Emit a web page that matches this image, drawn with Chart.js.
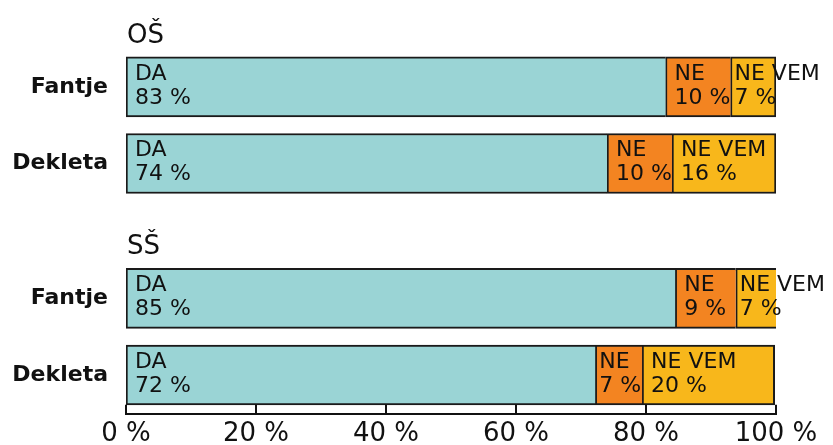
<!DOCTYPE html>
<html>
<head>
<meta charset="utf-8">
<script src="https://cdn.jsdelivr.net/npm/chart.js@4"></script>
<style>
    html, body { margin: 0; padding: 0; background: #fff; }
    #wrap { width: 833px; height: 445px; }
</style>
</head>
<body>
<div id="wrap"><canvas id="chart" width="833" height="445"></canvas></div>
<script>
// Data
const groups = ['OŠ', 'SŠ'];
const rowLabels = ['Fantje', 'Dekleta', 'Fantje', 'Dekleta'];
const rowGroup = [0, 0, 1, 1];
const seriesNames = ['DA', 'NE', 'NE VEM'];
const daValues = [83, 74, 84.5, 72.2];
const neValues = [10, 10, 9.3, 7.2];
const neVemValues = [7, 16, 6.5, 20.4];
const xTicks = [0, 20, 40, 60, 80, 100];

// Layout: where each row sits on the (linear) index axis
const rowSlots = [0, 1, 2.76, 3.76];
const FONT = '"DejaVu Sans", sans-serif';
const INK = '#111';

function toPoints(values) {
    return values.map((v, i) => ({ x: v, y: rowSlots[i] }));
}

const segmentLabels = {
    id: 'segmentLabels',
    afterDatasetsDraw(chart) {
        const ctx = chart.ctx;
        ctx.save();
        ctx.fillStyle = INK;
        ctx.textAlign = 'left';

        // text inside the bar segments
        ctx.font = '22px ' + FONT;
        ctx.textBaseline = 'middle';
        chart.data.datasets.forEach((ds, di) => {
            chart.getDatasetMeta(di).data.forEach((bar, i) => {
                const v = ds.data[i].x;
                const left = Math.min(bar.base, bar.x);
                const pad = v < 8 ? 4 : 9;
                ctx.fillText(ds.label, left + pad, bar.y - 13);
                ctx.fillText(Math.round(v) + ' %', left + pad, bar.y + 11);
            });
        });

        // group headers above each block of bars
        ctx.font = '26px ' + FONT;
        ctx.textBaseline = 'alphabetic';
        const first = chart.getDatasetMeta(0).data;
        groups.forEach((g, gi) => {
            const idx = rowGroup.indexOf(gi);
            const bar = first[idx];
            const top = bar.y - bar.height / 2;
            ctx.fillText(g, chart.scales.x.left + 1, top - 14);
        });

        // short ticks pointing up from the x axis
        const xs = chart.scales.x;
        ctx.strokeStyle = INK;
        ctx.lineWidth = 2;
        xTicks.forEach(t => {
            const px = Math.round(xs.getPixelForValue(t));
            ctx.beginPath();
            ctx.moveTo(px, xs.top - 9);
            ctx.lineTo(px, xs.top);
            ctx.stroke();
        });
        ctx.restore();
    }
};

const edge = { top: 2, bottom: 2, left: 2, right: 0 };

new Chart(document.getElementById('chart'), {
    type: 'bar',
    data: {
        datasets: [
            { label: seriesNames[0], data: toPoints(daValues), backgroundColor: '#9AD4D5', borderWidth: edge },
            { label: seriesNames[1], data: toPoints(neValues), backgroundColor: '#F38421', borderWidth: edge },
            { label: seriesNames[2], data: toPoints(neVemValues), backgroundColor: '#F8B71B', borderWidth: 2 }
        ]
    },
    options: {
        indexAxis: 'y',
        responsive: false,
        animation: false,
        layout: { padding: { top: 0, left: 0, right: 57, bottom: 0 } },
        datasets: {
            bar: { barThickness: 60, borderColor: '#1a1a1a', borderSkipped: false }
        },
        plugins: {
            legend: { display: false },
            tooltip: { enabled: false }
        },
        scales: {
            x: {
                type: 'linear',
                stacked: true,
                min: 0,
                max: 100,
                afterBuildTicks: s => { s.ticks = xTicks.map(v => ({ value: v })); },
                afterFit: s => { s.height = 30; },
                grid: { display: false, drawTicks: false },
                border: { display: true, color: INK, width: 2 },
                ticks: {
                    padding: 5,
                    color: INK,
                    font: { family: FONT, size: 26, weight: 'normal', lineHeight: 1.2 },
                    callback: v => v + ' %',
                    maxRotation: 0
                }
            },
            y: {
                type: 'linear',
                stacked: true,
                reverse: true,
                offset: false,
                min: -0.727,
                max: 4.266,
                afterBuildTicks: s => { s.ticks = rowSlots.map(v => ({ value: v })); },
                afterFit: s => { s.width = 126; },
                grid: { display: false, drawTicks: false, offset: false },
                border: { display: false },
                ticks: {
                    padding: 18,
                    color: INK,
                    font: { family: FONT, size: 22, weight: 'bold' },
                    callback: (v, i) => rowLabels[i]
                }
            }
        }
    },
    plugins: [segmentLabels]
});
</script>
</body>
</html>
